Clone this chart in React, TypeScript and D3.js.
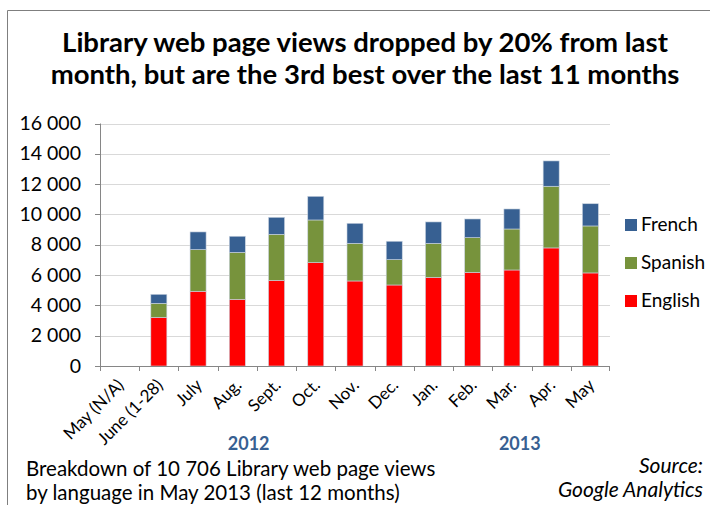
import React from "react";
import * as d3 from "d3";

const categories = ["May (N/A)", "June (1-28)", "July", "Aug.", "Sept.", "Oct.", "Nov.", "Dec.", "Jan.", "Feb.", "Mar.", "Apr.", "May"];
const english = [0, 3210, 4930, 4400, 5650, 6820, 5610, 5345, 5850, 6180, 6335, 7790, 6140];
const spanish = [0, 926, 2750, 3100, 3040, 2815, 2485, 1675, 2245, 2290, 2705, 4070, 3100];
const french = [0, 594, 1165, 1060, 1120, 1560, 1320, 1210, 1410, 1230, 1320, 1670, 1466];
const seriesNames = ["English", "Spanish", "French"];
const seriesColors = ["#FF0000", "#77933C", "#376092"];
const yTicks = [0, 2000, 4000, 6000, 8000, 10000, 12000, 14000, 16000];
const titleLines = ["Library web page views dropped by 20% from last", "month, but are the 3rd best over the last 11 months"];
const yearLabels = [{ label: "2012", at: 3.79 }, { label: "2013", at: 10.7 }];
const subtitleLines = ["Breakdown of 10 706 Library web page views", "by language in May 2013 (last 12 months)"];
const sourceLines = ["Source:", "Google Analytics"];

const FONT = "Lato, 'Open Sans', sans-serif";

export default function App() {
  const W = 710, H = 505;
  const left = 100, right = 610, top = 123.5, bottom = 366;
  const x = d3.scaleBand<string>().domain(categories).range([left, right]).paddingInner(0).paddingOuter(0);
  const y = d3.scaleLinear().domain([0, 16000]).range([bottom, top]);
  const rows = categories.map((c, i) => ({ cat: c, English: english[i], Spanish: spanish[i], French: french[i] }));
  const stack = d3.stack<any>().keys(seriesNames)(rows);
  const barW = 16;
  const fmt = (v: number) => d3.format(",")(v).replace(/,/g, " ");

  return (
    <svg width={W} height={H} style={{ position: "absolute", left: 0, top: 0, background: "#fff" }}>
      <rect x={0} y={0} width={W} height={H} fill="#fff" />
      <line x1={7.5} y1={10.5} x2={W} y2={10.5} stroke="#7f7f7f" strokeWidth={1} />
      <line x1={7.5} y1={10.5} x2={7.5} y2={H} stroke="#7f7f7f" strokeWidth={1} />
      {titleLines.map((t, i) => (
        <text key={i} x={365} y={52 + i * 32} textAnchor="middle" fontFamily={FONT} fontWeight="bold" fontSize={27.5} fill="#000">{t}</text>
      ))}
      {yTicks.map((t) => (
        <g key={t}>
          {t > 0 && <line x1={left} x2={right} y1={Math.round(y(t)) + 0.5} y2={Math.round(y(t)) + 0.5} stroke="#D9D9D9" strokeWidth={1} />}
          <line x1={left - 5} x2={left} y1={Math.round(y(t)) + 0.5} y2={Math.round(y(t)) + 0.5} stroke="#868686" />
          <text x={81} y={y(t) + 6.5} textAnchor="end" fontFamily={FONT} fontSize={19.5} fill="#000">{fmt(t)}</text>
        </g>
      ))}
      {stack.map((s, si) => (
        <g key={si} fill={seriesColors[si]}>
          {s.map((d: any, i: number) => {
            const h = y(d[0]) - y(d[1]);
            if (h <= 0) return null;
            return (
              <rect key={i} x={(x(categories[i]) as number) + x.bandwidth() / 2 - barW / 2} y={y(d[1])} width={barW} height={h} stroke="#c9d3e0" strokeWidth={0.6} />
            );
          })}
        </g>
      ))}
      <line x1={left + 0.5} x2={left + 0.5} y1={top} y2={bottom} stroke="#868686" />
      <line x1={left} x2={right} y1={bottom + 0.5} y2={bottom + 0.5} stroke="#868686" />
      {categories.map((c, i) => (
        <line key={"t" + i} x1={Math.round(left + i * x.step()) + 0.5} x2={Math.round(left + i * x.step()) + 0.5} y1={bottom} y2={bottom + 5} stroke="#868686" />
      ))}
      <line x1={right - 0.5} x2={right - 0.5} y1={bottom} y2={bottom + 5} stroke="#868686" />
      {categories.map((c, i) => {
        const cx = (x(c) as number) + x.bandwidth() / 2 + 1;
        const cy = bottom + 16;
        return (
          <text key={"l" + i} transform={`translate(${cx},${cy}) rotate(-45)`} textAnchor="end" dy="0.35em" fontFamily={FONT} fontSize={17} fill="#000">{c}</text>
        );
      })}
      {yearLabels.map((yl) => (
        <text key={yl.label} x={left + x.step() * yl.at} y={450} textAnchor="middle" fontFamily={FONT} fontWeight="bold" fontSize={18} fill="#376092">{yl.label}</text>
      ))}
      {[...seriesNames].reverse().map((n, i) => {
        const si = seriesNames.length - 1 - i;
        const ly = 219 + i * 38;
        return (
          <g key={n}>
            <rect x={625} y={ly} width={12} height={12} fill={seriesColors[si]} />
            <text x={641} y={ly + 12} fontFamily={FONT} fontSize={19} fill="#000">{n}</text>
          </g>
        );
      })}
      {subtitleLines.map((t, i) => (
        <text key={i} x={26} y={476 + i * 24} fontFamily={FONT} fontSize={20.5} fill="#000">{t}</text>
      ))}
      {sourceLines.map((t, i) => (
        <text key={i} x={703} y={473 + i * 24} textAnchor="end" fontFamily={FONT} fontStyle="italic" fontSize={21} fill="#000">{t}</text>
      ))}
    </svg>
  );
}
